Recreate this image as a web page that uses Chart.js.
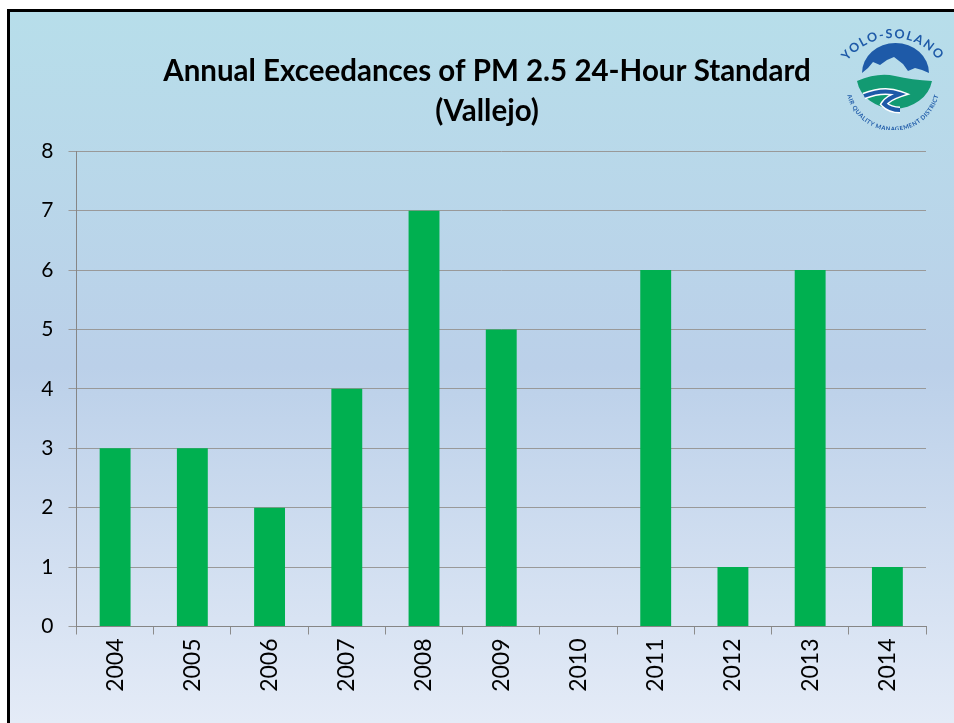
<!DOCTYPE html>
<html><head><meta charset="utf-8">
<script src="https://cdn.jsdelivr.net/npm/chart.js@4"></script>
<style>
html,body{margin:0;padding:0;background:#fff;width:954px;height:723px;overflow:hidden}
#bg{position:absolute;left:7px;top:9px;width:947px;height:714px;box-sizing:border-box;border-left:3px solid #000;border-top:3px solid #000;
background:linear-gradient(180deg,#b7deea 0%,#bbd0e9 50%,#e4ebf7 100%)}
#wrap{position:absolute;left:0;top:0;width:954px;height:723px}
#logo{position:absolute;left:840px;top:20px;width:105px;height:110px}
</style></head><body>
<div id="bg"></div>
<div id="wrap"><canvas id="c" width="954" height="723"></canvas></div>
<svg id="logo" viewBox="840 20 105 110" xmlns="http://www.w3.org/2000/svg">
<defs>
<path id="arcTop" d="M 848 60 A 57 57 0 0 1 938 60"/>
<path id="arcBot" d="M 846 84 A 47 47 0 0 0 940 84"/>
</defs>
<path d="M862 73 A33.5 30 0 0 1 929 73 L922 70 L915 68 L908 71 L903 64 L894 57 L887 60 L880 65 L873 62 L868 68 Z" fill="#1e5aa8"/>
<path d="M857 81 Q878 72 895 76 T932 81 A38 33 0 0 1 857 81 Z" fill="#129a72"/>
<path d="M864 96 Q884 88 900 94 Q888 98 884 104 Q890 110 900 110" fill="none" stroke="#fff" stroke-width="7"/>
<path d="M864 96 Q884 88 900 94 Q888 98 884 104 Q890 110 900 110" fill="none" stroke="#1e5aa8" stroke-width="4"/>
<text font-family="Lato" font-size="12.5" font-weight="700" fill="#1e5aa8" letter-spacing="1.4" text-anchor="middle"><textPath href="#arcTop" startOffset="50%">YOLO-SOLANO</textPath></text>
<text font-family="Lato" font-size="6" fill="#1e5aa8" font-weight="700" letter-spacing=".5" text-anchor="middle"><textPath href="#arcBot" startOffset="50%">AIR QUALITY MANAGEMENT DISTRICT</textPath></text>
</svg>
<script>
const categories=["2004","2005","2006","2007","2008","2009","2010","2011","2012","2013","2014"];
const exceedances=[3,3,2,4,7,5,0,6,1,6,1];
const titleLines=["Annual Exceedances of PM 2.5 24-Hour Standard","(Vallejo)"];
new Chart(document.getElementById("c"),{
type:"bar",
data:{labels:categories,datasets:[{data:exceedances,backgroundColor:"#00b050",borderWidth:0,barPercentage:0.4,categoryPercentage:1}]},
options:{
responsive:false,animation:false,
layout:{padding:{left:38,right:18,top:0,bottom:0}},
plugins:{legend:{display:false},tooltip:{enabled:false},
title:{display:true,text:titleLines,color:"#000",font:{family:"Lato",size:29.5,weight:"bold",lineHeight:1.36},padding:{top:51,bottom:20}}},
scales:{
x:{grid:{offset:true,drawOnChartArea:false,color:"#8c8c8c",tickLength:8,lineWidth:1},border:{color:"#868686"},
ticks:{color:"#000",font:{family:"Lato",size:23},minRotation:90,maxRotation:90,padding:4,autoSkip:false},
afterFit(s){s.height=96.5}},
y:{min:0,max:8,grid:{color:"#999999",tickLength:8,lineWidth:1},border:{color:"#868686"},
ticks:{stepSize:1,color:"#000",font:{family:"Lato",size:21},padding:15},
afterFit(s){s.width=38.5}},
spacer:{position:"right",axis:"y",grid:{display:false},border:{display:false},ticks:{display:false},afterFit(s){s.width=10}}
}}});
</script></body></html>
